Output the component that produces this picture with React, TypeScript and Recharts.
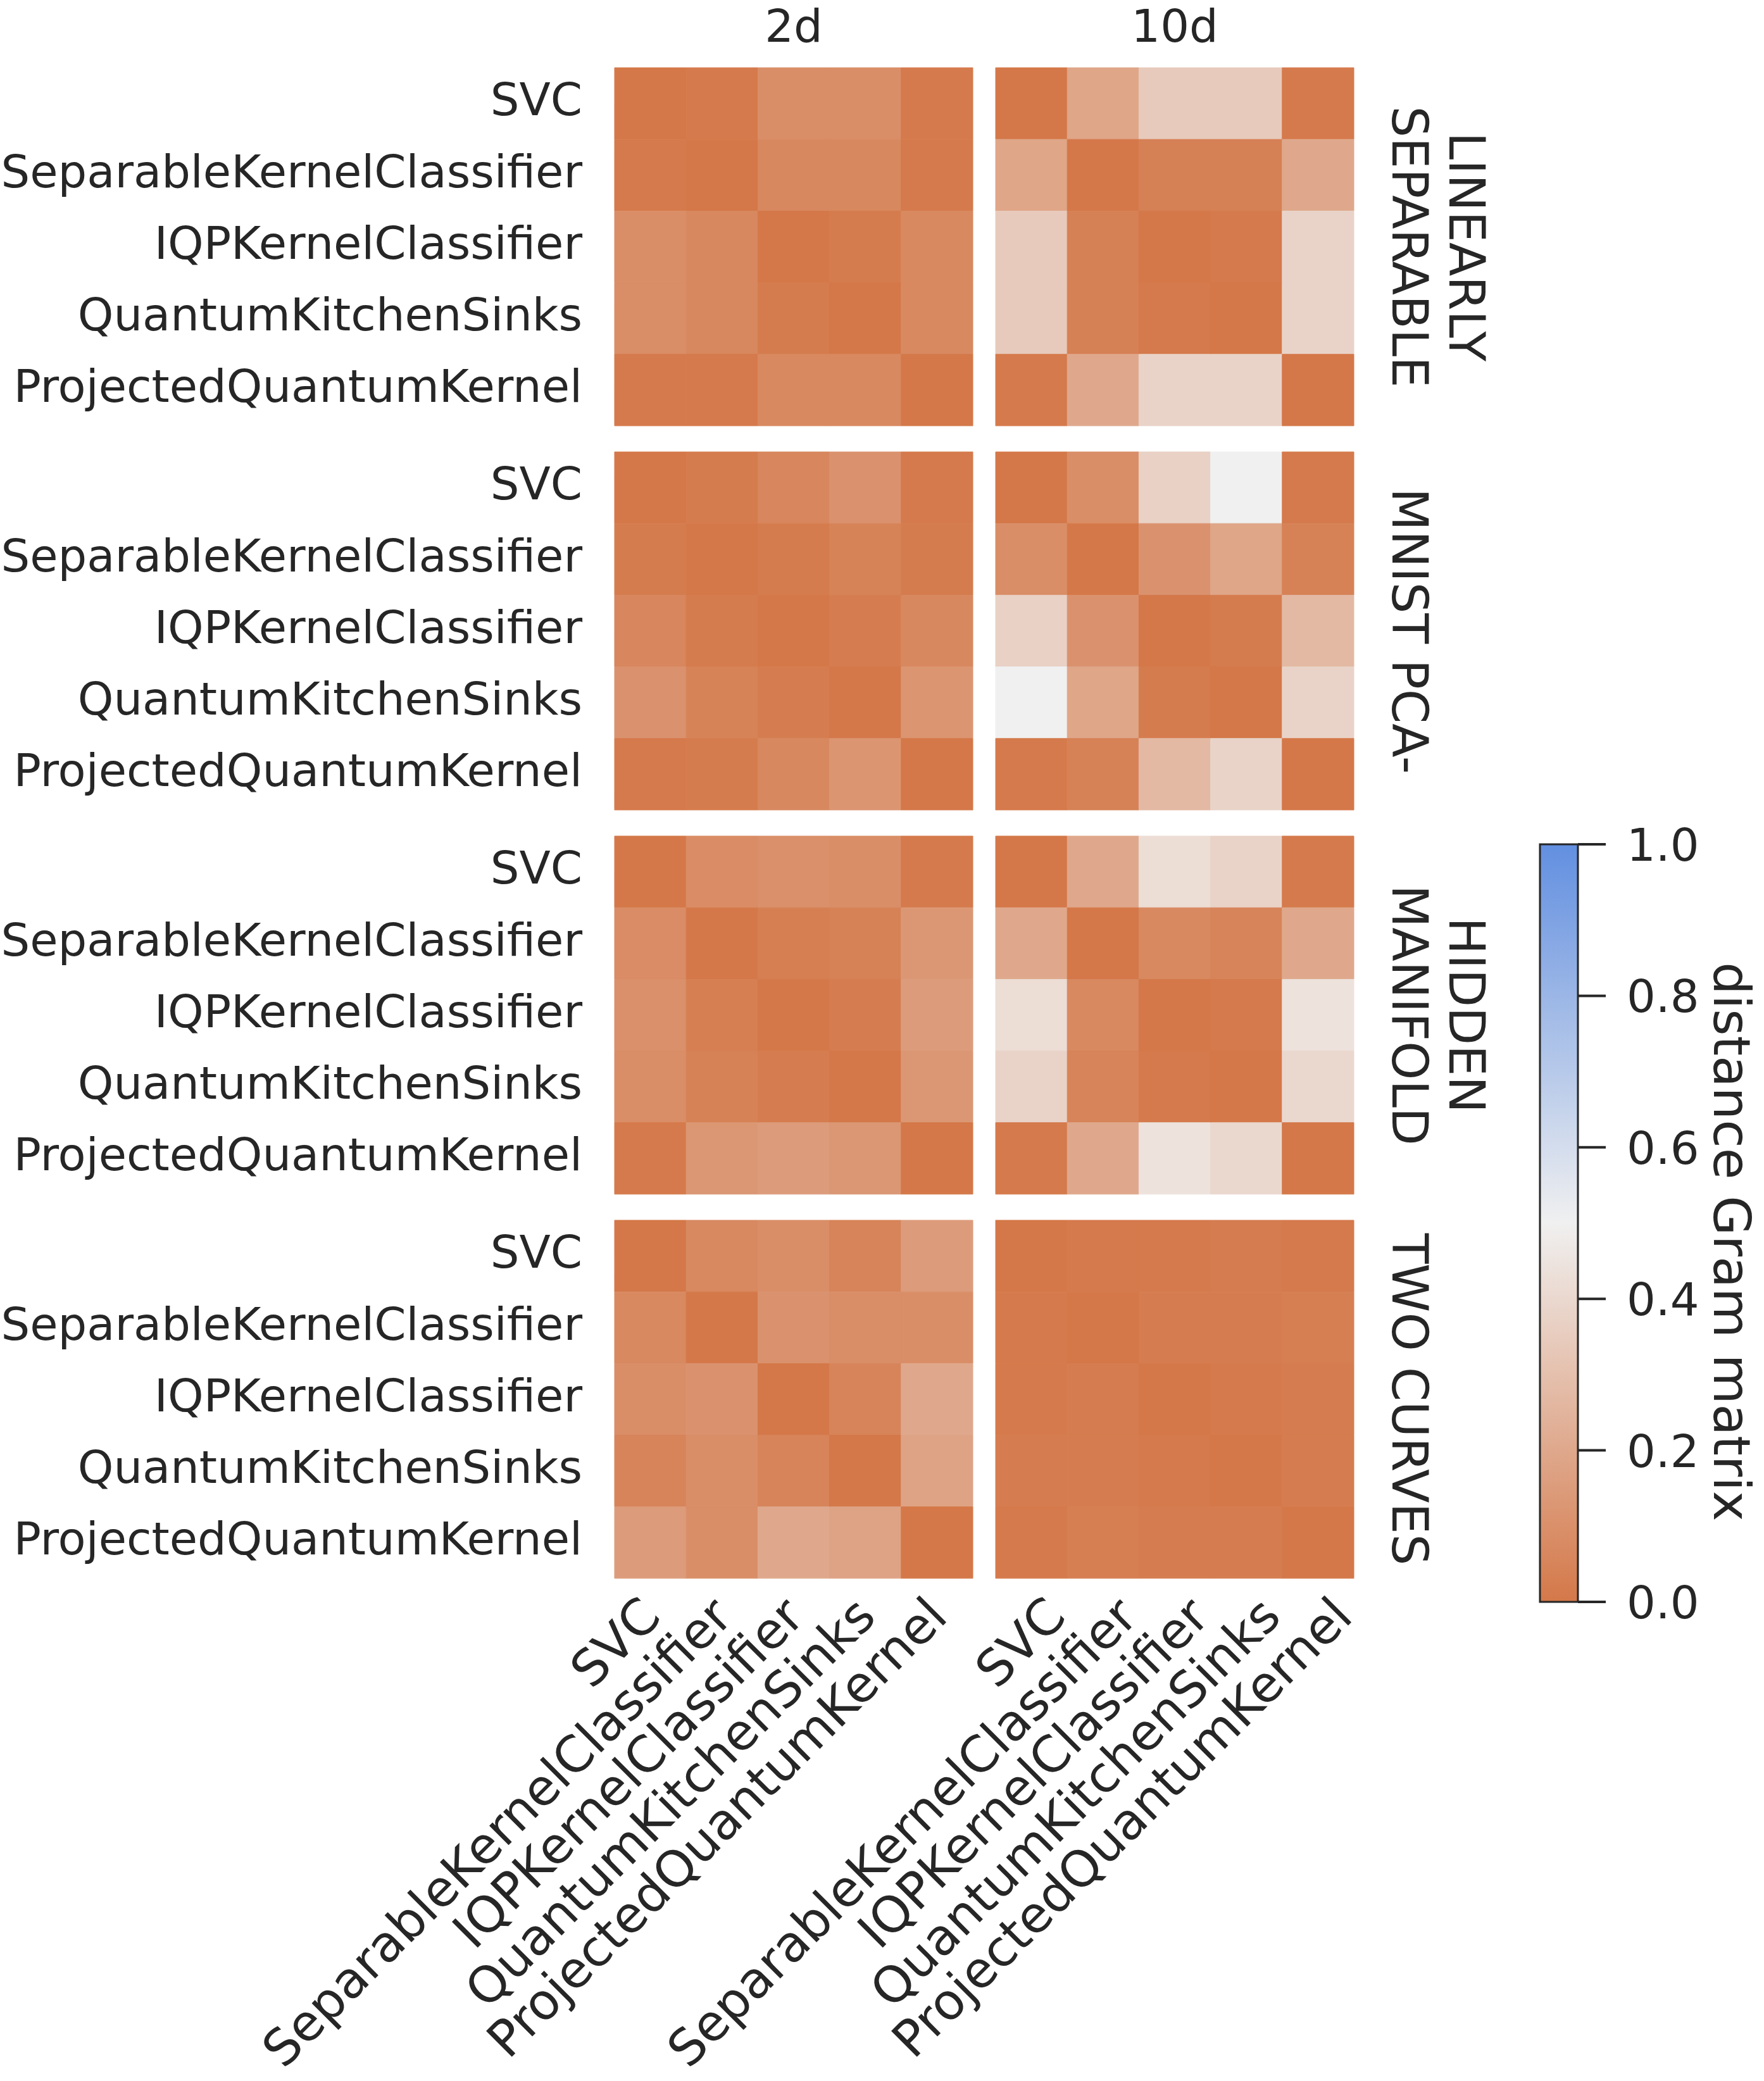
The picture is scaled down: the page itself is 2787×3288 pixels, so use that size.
import React from "react";
import { BarChart, Bar, XAxis, YAxis, Cell } from "recharts";

const models = [
  "SVC",
  "SeparableKernelClassifier",
  "IQPKernelClassifier",
  "QuantumKitchenSinks",
  "ProjectedQuantumKernel",
];
const dimLabels = ["2d", "10d"];
const datasetLabels = [["LINEARLY", "SEPARABLE"], ["MNIST PCA-"], ["HIDDEN", "MANIFOLD"], ["TWO CURVES"]];

// distance between Gram matrices, rows/cols follow `models`
const linSep2d = [
  [0, 0.01, 0.09, 0.09, 0.01],
  [0.01, 0, 0.065, 0.065, 0.01],
  [0.09, 0.065, 0, 0.015, 0.07],
  [0.09, 0.065, 0.015, 0, 0.07],
  [0.01, 0.01, 0.07, 0.07, 0],
];
const linSep10d = [
  [0, 0.19, 0.34, 0.34, 0.01],
  [0.19, 0, 0.035, 0.035, 0.2],
  [0.34, 0.035, 0, 0.01, 0.38],
  [0.34, 0.035, 0.01, 0, 0.38],
  [0.01, 0.2, 0.38, 0.38, 0],
];
const mnist2d = [
  [0, 0.015, 0.06, 0.11, 0.01],
  [0.015, 0, 0.015, 0.045, 0.015],
  [0.06, 0.015, 0, 0.02, 0.065],
  [0.11, 0.045, 0.02, 0, 0.12],
  [0.01, 0.015, 0.065, 0.12, 0],
];
const mnist10d = [
  [0, 0.09, 0.37, 0.5, 0.01],
  [0.09, 0, 0.11, 0.19, 0.04],
  [0.37, 0.11, 0, 0.015, 0.27],
  [0.5, 0.19, 0.015, 0, 0.38],
  [0.01, 0.04, 0.27, 0.38, 0],
];
const hidden2d = [
  [0, 0.085, 0.1, 0.09, 0.01],
  [0.085, 0, 0.03, 0.04, 0.13],
  [0.1, 0.03, 0, 0.02, 0.15],
  [0.09, 0.04, 0.02, 0, 0.13],
  [0.01, 0.13, 0.15, 0.13, 0],
];
const hidden10d = [
  [0, 0.2, 0.42, 0.38, 0.01],
  [0.2, 0, 0.07, 0.05, 0.2],
  [0.42, 0.07, 0, 0.01, 0.44],
  [0.38, 0.05, 0.01, 0, 0.4],
  [0.01, 0.2, 0.44, 0.4, 0],
];
const curves2d = [
  [0, 0.07, 0.09, 0.05, 0.15],
  [0.07, 0, 0.11, 0.09, 0.09],
  [0.09, 0.11, 0, 0.05, 0.2],
  [0.05, 0.09, 0.05, 0, 0.18],
  [0.15, 0.09, 0.2, 0.18, 0],
];
const curves10d = [
  [0, 0.01, 0.01, 0.02, 0.01],
  [0.01, 0, 0.02, 0.02, 0.03],
  [0.01, 0.02, 0, 0.01, 0.02],
  [0.02, 0.02, 0.01, 0, 0.02],
  [0.01, 0.03, 0.02, 0.02, 0],
];
const cbarTicks = [0, 0.2, 0.4, 0.6, 0.8, 1.0];

const matrices = [
  [linSep2d, linSep10d],
  [mnist2d, mnist10d],
  [hidden2d, hidden10d],
  [curves2d, curves10d],
];

// layout (px)
const FIG_W = 2787;
const FIG_H = 3288;
const PANEL = 566;
const COL_X = [971, 1573];
const ROW_Y = [107, 714, 1321, 1928];
const ROW_LABEL_X = [2227, 2317];
const XLABEL_SHIFT = [20, 58];
const CBAR_X = 2433;
const CBAR_W = 60;
const CBAR_TOP = 1334;
const CBAR_H = 1197;
const CBAR_PAD = 50;

const TEXT = "#262626";
const FONT = "DejaVu Sans";

// diverging orange -> light grey -> blue
const ORANGE = [212, 120, 73];
const MID = [240, 240, 240];
const BLUE = [98, 143, 224];

function mix(a: number[], b: number[], t: number) {
  return a.map((v, i) => Math.round(v + (b[i] - v) * t));
}

function cmap(v: number) {
  const c = v <= 0.5 ? mix(ORANGE, MID, v / 0.5) : mix(MID, BLUE, (v - 0.5) / 0.5);
  return `rgb(${c[0]},${c[1]},${c[2]})`;
}

// each row is one category; every column is a unit-wide stacked segment
const rows = models.map((name) => {
  const r: Record<string, string | number> = { name };
  models.forEach((_, j) => (r[`c${j}`] = 1));
  return r;
});

const LeftTick = ({ x, y, payload }: any) => (
  <text x={x} y={y} dy="0.26em" textAnchor="end" fontSize={72} fill={TEXT} fontFamily={FONT}>
    {payload.value}
  </text>
);

const BottomTick = ({ x, y, payload, shift }: any) => (
  <text
    transform={`translate(${x + shift},${y + 64}) rotate(-45)`}
    textAnchor="end"
    fontSize={79}
    fill={TEXT}
    fontFamily={FONT}
  >
    {models[Math.floor(payload.value)]}
  </text>
);

const CbarTick = ({ x, y, payload }: any) => (
  <text x={x} y={y} dy="0.36em" textAnchor="start" fontSize={72} fill={TEXT} fontFamily={FONT}>
    {Number(payload.value).toFixed(1)}
  </text>
);

function Panel({ matrix, col, row }: { matrix: number[][]; col: number; row: number }) {
  const showY = col === 0;
  const showX = row === ROW_Y.length - 1;
  const xH = showX ? FIG_H - ROW_Y[row] - PANEL : 0;
  const left = showY ? 0 : COL_X[col];
  const width = showY ? COL_X[0] + PANEL : PANEL;

  return (
    <div style={{ position: "absolute", left, top: ROW_Y[row] }}>
      <BarChart
        layout="vertical"
        width={width}
        height={PANEL + xH}
        data={rows}
        margin={{ top: 0, right: 0, bottom: 0, left: 0 }}
        barCategoryGap={0}
        barGap={0}
      >
        <XAxis
          type="number"
          domain={[0, models.length]}
          ticks={models.map((_, j) => j + 0.5)}
          interval={0}
          hide={!showX}
          height={xH}
          axisLine={false}
          tickLine={false}
          tickSize={0}
          tickMargin={0}
          tick={(p: any) => <BottomTick {...p} shift={XLABEL_SHIFT[col]} />}
        />
        <YAxis
          type="category"
          dataKey="name"
          hide={!showY}
          width={COL_X[0]}
          interval={0}
          axisLine={false}
          tickLine={false}
          tickSize={0}
          tickMargin={51}
          tick={(p: any) => <LeftTick {...p} />}
        />
        {models.map((m, j) => (
          <Bar key={m} dataKey={`c${j}`} stackId="cells" isAnimationActive={false}>
            {matrix.map((r, i) => (
              <Cell key={i} fill={cmap(r[j])} stroke={cmap(r[j])} strokeWidth={1} />
            ))}
          </Bar>
        ))}
      </BarChart>
    </div>
  );
}

function Colorbar() {
  const data = [{ name: "cbar", v: 1 }];
  return (
    <div style={{ position: "absolute", left: CBAR_X, top: CBAR_TOP - CBAR_PAD }}>
      <BarChart
        width={CBAR_W + 260}
        height={CBAR_H + 2 * CBAR_PAD}
        data={data}
        margin={{ top: CBAR_PAD, bottom: CBAR_PAD, left: 0, right: 0 }}
        barCategoryGap={0}
      >
        <XAxis dataKey="name" hide />
        <YAxis
          orientation="right"
          type="number"
          domain={[0, 1]}
          ticks={cbarTicks}
          interval={0}
          width={260}
          axisLine={false}
          tickLine={{ stroke: TEXT, strokeWidth: 4 }}
          tickSize={44}
          tickMargin={33}
          tick={(p: any) => <CbarTick {...p} />}
        />
        <Bar dataKey="v" fill="url(#cbarGrad)" stroke={TEXT} strokeWidth={3} isAnimationActive={false} />
      </BarChart>
    </div>
  );
}

export default function App() {
  const gradStops = Array.from({ length: 21 }, (_, k) => k / 20);
  return (
    <div style={{ position: "relative", width: FIG_W, height: FIG_H, background: "#fff", fontFamily: FONT }}>
      <style>{"body{margin:0} .recharts-surface{overflow:visible}"}</style>
      {matrices.map((pair, r) =>
        pair.map((m, c) => <Panel key={`${r}-${c}`} matrix={m} col={c} row={r} />)
      )}
      <Colorbar />
      <svg
        width={FIG_W}
        height={FIG_H}
        style={{ position: "absolute", left: 0, top: 0, pointerEvents: "none" }}
        fontFamily={FONT}
        fill={TEXT}
      >
        <defs>
          <linearGradient id="cbarGrad" x1="0" y1="1" x2="0" y2="0">
            {gradStops.map((t) => (
              <stop key={t} offset={t} stopColor={cmap(t)} />
            ))}
          </linearGradient>
        </defs>
        {dimLabels.map((d, c) => (
          <text key={d} x={COL_X[c] + PANEL / 2} y={66} textAnchor="middle" fontSize={72}>
            {d}
          </text>
        ))}
        {datasetLabels.map((lines, r) =>
          lines.map((line, k) => (
            <text
              key={`${r}-${k}`}
              transform={`translate(${ROW_LABEL_X[lines.length - 1 - k]},${ROW_Y[r] + PANEL / 2}) rotate(90)`}
              textAnchor="middle"
              dominantBaseline="central"
              fontSize={78}
            >
              {line}
            </text>
          ))
        )}
        <text
          transform={`translate(2736,1962) rotate(90)`}
          textAnchor="middle"
          dominantBaseline="central"
          fontSize={81}
        >
          distance Gram matrix
        </text>
      </svg>
    </div>
  );
}
